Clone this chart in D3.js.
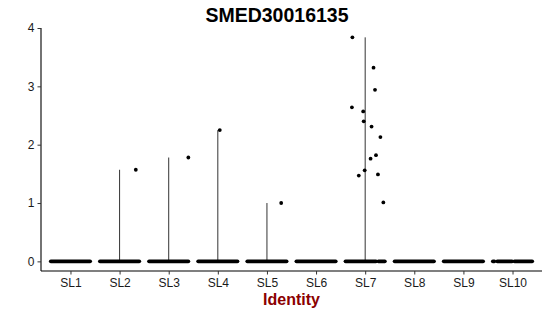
<!DOCTYPE html>
<html>
<head>
<meta charset="utf-8">
<script src="https://cdn.jsdelivr.net/npm/d3@7"></script>
<style>
  body { margin: 0; background: #fff; }
  svg { display: block; font-family: "Liberation Sans", Arial, sans-serif; }
</style>
</head>
<body>
<div id="chart"></div>
<script>
const title = "SMED30016135";
const xTitle = "Identity";
const clusters = ["SL1", "SL2", "SL3", "SL4", "SL5", "SL6", "SL7", "SL8", "SL9", "SL10"];
const yTicks = [0, 1, 2, 3, 4];

// highest expression per cluster (violin reaches up to it)
const clusterMax = [0, 1.57, 1.78, 2.25, 1.0, 0, 3.84, 0, 0, 0];

// non-zero cells: cluster, jitter (fraction of a band step), value
const cellCluster = ["SL2", "SL3", "SL4", "SL5",
  "SL7", "SL7", "SL7", "SL7", "SL7", "SL7", "SL7",
  "SL7", "SL7", "SL7", "SL7", "SL7", "SL7", "SL7"];
const cellJitter = [0.33, 0.40, 0.04, 0.29,
  -0.26, 0.17, 0.20, -0.27, -0.04, -0.03, 0.13,
  0.31, 0.22, 0.11, -0.01, -0.13, 0.26, 0.37];
const cellValue = [1.57, 1.78, 2.25, 1.0,
  3.84, 3.32, 2.94, 2.64, 2.57, 2.40, 2.31,
  2.13, 1.82, 1.76, 1.56, 1.47, 1.49, 1.01];

// zero cells pile up into a band; spans of jitter (fraction of step) covered
const zeroSpans = [
  [[-0.4, 0.4]], [[-0.4, 0.4]], [[-0.4, 0.4]], [[-0.4, 0.4]], [[-0.4, 0.4]],
  [[-0.4, 0.4]], [[-0.4, 0.22], [0.27, 0.4]], [[-0.4, 0.4]], [[-0.4, 0.4]],
  [[-0.4, -0.37], [-0.31, -0.01], [0.04, 0.4]]
];

const W = 550, H = 316;
const margin = {left: 41, right: 8, top: 28, bottom: 45};
const width = W - margin.left - margin.right,
      height = H - margin.top - margin.bottom;

const svg = d3.select("#chart").append("svg")
    .attr("width", W)
    .attr("height", H);

const g = svg.append("g")
    .attr("transform", `translate(${margin.left}, ${margin.top})`);

const x = d3.scalePoint().domain(clusters).range([0, width]).padding(0.6);
const step = x.step();
const yMax = d3.max(cellValue);
const pad = yMax * 0.043;
const y = d3.scaleLinear().domain([-pad, 4]).range([height, 0]);

// violins (collapse to a vertical line)
g.append("g")
    .selectAll("line")
    .data(clusters.filter((c, i) => clusterMax[i] > 0))
    .enter().append("line")
    .attr("x1", d => x(d))
    .attr("x2", d => x(d))
    .attr("y1", y(0))
    .attr("y2", d => y(clusterMax[clusters.indexOf(d)]))
    .attr("stroke", "#333")
    .attr("stroke-width", 1);

// zero bands
clusters.forEach((c, i) => {
    g.append("g").selectAll("line")
        .data(zeroSpans[i])
        .enter().append("line")
        .attr("x1", d => x(c) + d[0] * step)
        .attr("x2", d => x(c) + d[1] * step)
        .attr("y1", y(0))
        .attr("y2", y(0))
        .attr("stroke", "#000")
        .attr("stroke-width", 3.8)
        .attr("stroke-linecap", "round");
});

// non-zero cells
g.append("g")
    .selectAll("circle")
    .data(cellValue)
    .enter().append("circle")
    .attr("cx", (d, i) => x(cellCluster[i]) + cellJitter[i] * step)
    .attr("cy", d => y(d))
    .attr("r", 1.9)
    .attr("fill", "#000");

// axes
const xAxis = g.append("g")
    .attr("transform", `translate(0, ${height})`)
    .call(d3.axisBottom(x).tickSizeOuter(0).tickSize(3.5).tickPadding(4));
const yAxis = g.append("g")
    .call(d3.axisLeft(y).tickValues(yTicks).tickFormat(d3.format("d")).tickSizeOuter(0).tickSize(3.5).tickPadding(3));

[xAxis, yAxis].forEach(a => {
    a.select(".domain").attr("stroke", "#000").attr("stroke-width", 1.1);
    a.selectAll(".tick line").attr("stroke", "#333");
    a.selectAll(".tick text")
        .attr("fill", "#1a1a1a")
        .style("font-size", "12px")
        .style("font-family", "Liberation Sans, Arial, sans-serif");
});
xAxis.select(".domain").attr("d", `M0,0H${width}`);
yAxis.select(".domain").attr("d", `M0,${height}V${y(4)}`);

svg.append("text")
    .attr("x", 277)
    .attr("y", 22)
    .attr("text-anchor", "middle")
    .style("font-size", "19.5px")
    .style("font-weight", "bold")
    .text(title);

svg.append("text")
    .attr("x", margin.left + width / 2)
    .attr("y", 305)
    .attr("text-anchor", "middle")
    .attr("fill", "#8B0000")
    .style("font-size", "16px")
    .style("font-weight", "bold")
    .text(xTitle);
</script>
</body>
</html>
